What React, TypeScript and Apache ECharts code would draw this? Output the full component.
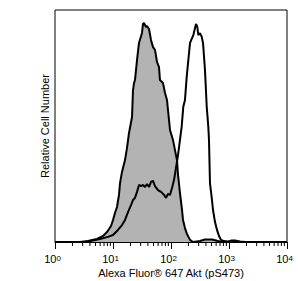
import React, { useEffect, useRef } from "react";
import * as echarts from "echarts";

// x positions are in decades (log10 of fluorescence intensity), y is relative cell number
const isotypeLog = [0, 0.43, 0.569, 0.724, 0.828, 0.897, 0.966, 1.0, 1.034, 1.069, 1.103, 1.121, 1.155, 1.207, 1.241, 1.276, 1.328, 1.345, 1.362, 1.379, 1.414, 1.448, 1.5, 1.517, 1.534, 1.569, 1.586, 1.621, 1.655, 1.69, 1.724, 1.759, 1.793, 1.81, 1.862, 1.897, 1.931, 1.948, 1.983, 2.034, 2.103, 2.121, 2.155, 2.19, 2.207, 2.241, 2.276, 2.328, 2.379, 2.5, 2.586, 2.707, 2.81, 2.879, 4.0];
const isotypeCount = [0, 0, 0.4, 1.3, 2.6, 4.3, 6.9, 9.5, 12.5, 15.1, 20.3, 25.4, 30.2, 35.3, 40.5, 47, 53.9, 65.5, 68.5, 69.8, 78.4, 85.8, 90.1, 94, 94.4, 92.7, 93.1, 91.8, 87.1, 84, 82.8, 77.6, 75.4, 69.8, 68.5, 64.2, 61.2, 56.9, 48.3, 44, 35.3, 28.9, 21.1, 13.8, 9.5, 6.0, 3.4, 0.9, 0, 0.4, 1.1, 1.1, 0.4, 0, 0];

const stimulatedLog = [0, 0.517, 0.603, 0.776, 0.914, 1.0, 1.086, 1.155, 1.207, 1.259, 1.31, 1.345, 1.379, 1.414, 1.448, 1.483, 1.517, 1.552, 1.586, 1.621, 1.655, 1.69, 1.724, 1.776, 1.828, 1.879, 1.914, 1.948, 1.983, 2.017, 2.052, 2.086, 2.121, 2.155, 2.184, 2.212, 2.241, 2.271, 2.328, 2.385, 2.431, 2.453, 2.471, 2.5, 2.529, 2.552, 2.586, 2.616, 2.643, 2.655, 2.672, 2.707, 2.724, 2.759, 2.793, 2.828, 2.862, 2.914, 2.983, 3.034, 3.121, 3.19, 3.29, 4.0];
const stimulatedCount = [0, 0, 0.4, 1.3, 2.2, 3.0, 5.2, 7.3, 9.5, 12.9, 15.9, 18.1, 19.0, 21.6, 24.6, 24.1, 24.6, 23.7, 25, 23.7, 25.9, 26.3, 24.1, 22.4, 21.6, 20.3, 19.0, 20.7, 20.3, 23.3, 26.7, 31.9, 37.5, 44, 49.7, 58.3, 61.2, 71.3, 85.8, 89.2, 94, 92.8, 89.2, 90, 88.5, 85.8, 74.1, 58.3, 49.7, 44, 25.4, 18.1, 13.8, 8.6, 5.2, 2.6, 0.9, 0.4, 0.2, 0.6, 0.6, 0.2, 0, 0];

const decadeExponents = [0, 1, 2, 3, 4];
const minorMultipliers = [2, 3, 4, 5, 6, 7, 8, 9];

const xTitle = "Alexa Fluor® 647 Akt (pS473)";
const yTitle = "Relative Cell Number";

const FONT = "'Liberation Sans', Arial, sans-serif";

export default function App() {
  const ref = useRef<HTMLDivElement>(null);
  useEffect(() => {
    if (!ref.current) return;
    const chart = echarts.init(ref.current, null, { renderer: "svg" });
    const minorTicks: number[][] = [];
    decadeExponents.slice(0, -1).forEach((e) => {
      minorMultipliers.forEach((m) => minorTicks.push([e + Math.log10(m), 0]));
    });
    chart.setOption({
      animation: false,
      backgroundColor: "#fff",
      grid: {
        left: 55,
        right: 11,
        top: 10,
        bottom: 39,
        outerBoundsMode: "none",
        containLabel: false,
        show: true,
        borderColor: "#000",
        borderWidth: 1,
        backgroundColor: "transparent",
      },
      xAxis: {
        type: "value",
        min: 0,
        max: 4,
        interval: 1,
        name: xTitle,
        nameLocation: "middle",
        nameGap: 25,
        nameMoveOverlap: false,
        nameTextStyle: { fontFamily: FONT, fontSize: 11, color: "#000", lineHeight: 12 },
        axisLine: { show: true, lineStyle: { color: "#000", width: 1 } },
        axisTick: { show: true, inside: false, length: 7, lineStyle: { color: "#000", width: 1 } },
        splitLine: { show: false },
        axisLabel: {
          margin: 12,
          padding: [0, 5, 0, 0],
          formatter: (v: number) => `{b|10}{s|${v}}`,
          rich: {
            b: { fontFamily: FONT, fontSize: 11, color: "#000", verticalAlign: "bottom", lineHeight: 10, padding: [3, 0, 0, 0] },
            s: { fontFamily: FONT, fontSize: 8, color: "#000", verticalAlign: "top", lineHeight: 8 },
          },
        },
      },
      yAxis: {
        type: "value",
        min: 0,
        max: 100,
        name: yTitle,
        nameLocation: "middle",
        nameGap: 5,
        nameTextStyle: { fontFamily: FONT, fontSize: 11, color: "#000" },
        axisLine: { show: false },
        axisTick: { show: false },
        axisLabel: { show: false },
        splitLine: { show: false },
      },
      series: [
        {
          type: "line",
          data: isotypeLog.map((x, i) => [x, isotypeCount[i]]),
          showSymbol: false,
          lineStyle: { color: "#000", width: 2 },
          areaStyle: { color: "#b3b3b3", opacity: 1 },
          z: 2,
        },
        {
          type: "line",
          data: stimulatedLog.map((x, i) => [x, stimulatedCount[i]]),
          showSymbol: false,
          lineStyle: { color: "#000", width: 2 },
          z: 3,
        },
        {
          type: "custom",
          data: minorTicks,
          clip: false,
          z: 4,
          renderItem: (params: any, api: any) => {
            const p = api.coord([api.value(0), api.value(1)]);
            return {
              type: "line",
              shape: { x1: p[0], y1: p[1], x2: p[0], y2: p[1] + 4 },
              style: { stroke: "#000", lineWidth: 1 },
            };
          },
        },
      ],
    });
    return () => chart.dispose();
  }, []);
  return <div ref={ref} style={{ position: "fixed", left: 0, top: 0, width: 298, height: 281 }} />;
}
